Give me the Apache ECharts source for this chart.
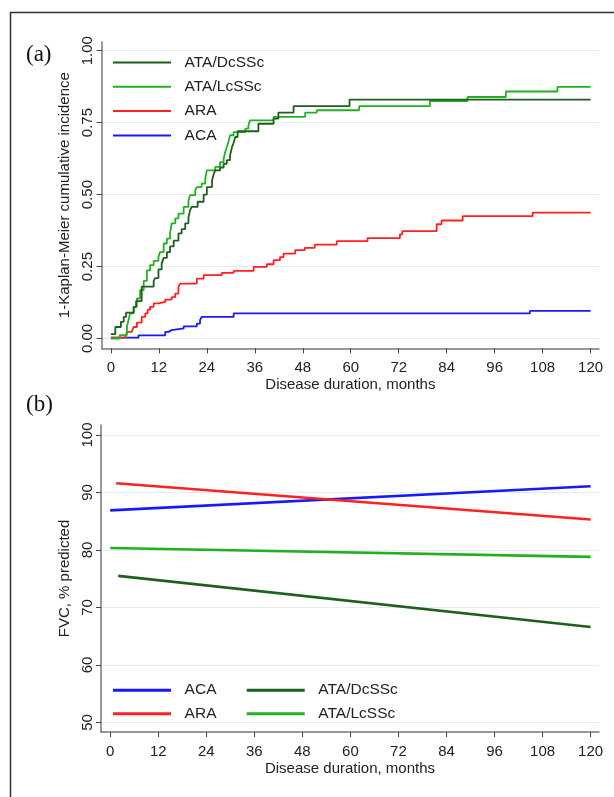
<!DOCTYPE html>
<html><head><meta charset="utf-8">
<script src="https://cdn.jsdelivr.net/npm/echarts@6/dist/echarts.min.js"></script>
<style>html,body{margin:0;padding:0;background:#fff}#c{width:614px;height:797px}</style>
</head><body><div id="c"></div>
<script>
// ---------- data ----------
const monthTicks = [0, 12, 24, 36, 48, 60, 72, 84, 96, 108, 120];
const kmTicks = [0, 0.25, 0.5, 0.75, 1];
const fvcTicks = [50, 60, 70, 80, 90, 100];
const groupNames = ['ATA/DcSSc', 'ATA/LcSSc', 'ARA', 'ACA'];

// (a) 1-Kaplan-Meier cumulative incidence: [month, value] at each step
const kmDcSSc = [[0,0.015],[1.1,0.04],[2.5,0.058],[3.2,0.075],[3.8,0.09],[5.7,0.11],[6.3,0.13],[7.7,0.18],[10.7,0.20],[11.1,0.21],[11.9,0.24],[12.7,0.26],[13.2,0.28],[14.0,0.30],[14.8,0.32],[15.7,0.34],[16.9,0.365],[17.7,0.38],[18.6,0.40],[19.4,0.42],[19.8,0.445],[20.2,0.457],[21.7,0.475],[23.2,0.50],[24.0,0.526],[25.3,0.55],[25.7,0.57],[26.1,0.584],[27.3,0.594],[28.2,0.607],[29.0,0.62],[29.8,0.636],[30.3,0.665],[30.7,0.68],[31.1,0.70],[31.7,0.72],[36.9,0.746],[40.7,0.764],[41.9,0.785],[45.7,0.807],[59.7,0.83],[120,0.83]];
const kmLcSSc = [[0,0],[2.2,0.012],[4.0,0.04],[4.4,0.064],[4.8,0.087],[5.7,0.11],[6.5,0.139],[7.3,0.168],[8.2,0.20],[9.0,0.237],[9.8,0.255],[10.7,0.27],[11.9,0.283],[12.3,0.30],[13.2,0.33],[14.0,0.347],[14.8,0.365],[15.2,0.40],[16.1,0.417],[16.9,0.434],[18.2,0.457],[19.4,0.48],[19.8,0.498],[21.1,0.515],[21.5,0.526],[22.7,0.538],[23.6,0.556],[24.0,0.584],[26.1,0.596],[27.3,0.613],[28.2,0.625],[28.6,0.648],[29.0,0.665],[29.4,0.683],[29.8,0.706],[30.7,0.717],[33.6,0.729],[34.4,0.74],[34.8,0.758],[40.7,0.77],[48.6,0.785],[51.5,0.793],[62.1,0.807],[79.8,0.825],[89.2,0.839],[98.8,0.858],[111.7,0.874],[120,0.874]];
const kmARA = [[0,0.003],[3.6,0.008],[4.0,0.023],[5.2,0.029],[5.7,0.04],[6.5,0.055],[7.7,0.075],[8.6,0.087],[9.2,0.10],[9.8,0.11],[10.7,0.122],[11.9,0.127],[13.6,0.135],[15.2,0.144],[16.1,0.156],[16.9,0.179],[17.3,0.191],[21.5,0.208],[23.2,0.22],[27.7,0.228],[30.7,0.235],[35.7,0.249],[39.0,0.258],[40.7,0.272],[42.3,0.283],[43.2,0.295],[46.1,0.307],[48.5,0.315],[51.0,0.326],[56.5,0.338],[64.2,0.349],[72.3,0.362],[72.9,0.373],[81.5,0.397],[82.7,0.41],[88.0,0.425],[105.5,0.4375],[120,0.4375]];
const kmACA = [[0,0.003],[6.9,0.011],[13.6,0.023],[14.4,0.029],[15.2,0.035],[18.2,0.042],[21.5,0.052],[22.3,0.064],[22.7,0.075],[30.7,0.087],[104.8,0.096],[120,0.096]];

// (b) FVC, % predicted: fitted lines [month, value]
const fvcACA = [[0,86.9],[120,91.1]];
const fvcARA = [[1.5,91.6],[120,85.3]];
const fvcDcSSc = [[2,75.5],[120,66.6]];
const fvcLcSSc = [[0,80.35],[120,78.8]];

// ---------- style ----------
const colors = {'ATA/DcSSc':'#1d5f1d','ATA/LcSSc':'#22b022','ARA':'#ff2020','ACA':'#1818ff'};
const FONT = '"Liberation Sans", Arial, sans-serif';
const txt = {fontFamily: FONT, fontSize: 15, color: '#222'};

function xAxisCfg(gi) {
  return {
    type: 'value', gridIndex: gi, min: -2.3, max: 122.1,
    axisLine: {show: true, onZero: false, lineStyle: {color: '#777', width: 1.5}},
    axisTick: {show: true, customValues: monthTicks, length: 5, lineStyle: {color: '#444', width: 1}},
    axisLabel: Object.assign({customValues: monthTicks, margin: 12}, txt),
    splitLine: {show: false},
    name: 'Disease duration, months', nameLocation: 'middle', nameGap: 29,
    nameTextStyle: txt
  };
}
function yAxisCfg(gi, min, max, ticks, fmt, name) {
  return {
    type: 'value', gridIndex: gi, min: min, max: max,
    axisLine: {show: true, onZero: false, lineStyle: {color: '#777', width: 1.5}},
    axisTick: {show: true, customValues: ticks, length: 5, lineStyle: {color: '#444', width: 1}},
    axisLabel: Object.assign({customValues: ticks, margin: 6, rotate: 90, formatter: fmt}, txt),
    splitLine: {show: true, lineStyle: {color: '#e4ecef', width: 1}},
    name: name, nameLocation: 'middle', nameGap: 22, nameTextStyle: txt
  };
}

const kmData = {'ATA/DcSSc': kmDcSSc, 'ATA/LcSSc': kmLcSSc, 'ARA': kmARA, 'ACA': kmACA};
const fvcData = {'ATA/DcSSc': fvcDcSSc, 'ATA/LcSSc': fvcLcSSc, 'ARA': fvcARA, 'ACA': fvcACA};
const drawOrder = ['ACA', 'ARA', 'ATA/LcSSc', 'ATA/DcSSc'];

const series = [];
drawOrder.forEach(n => series.push({
  name: n, type: 'line', step: 'end', xAxisIndex: 0, yAxisIndex: 0, data: kmData[n],
  symbol: 'none', color: colors[n], lineStyle: {width: 1.8, color: colors[n]}, silent: true
}));
drawOrder.forEach(n => series.push({
  name: n, type: 'line', xAxisIndex: 1, yAxisIndex: 1, data: fvcData[n],
  symbol: 'none', color: colors[n], lineStyle: {width: 2.6, color: colors[n]}, silent: true
}));

function legendCfg(names, left, top, h, gap) {
  return {
    show: true, orient: 'vertical', left: left, top: top, itemWidth: 58, itemHeight: h, itemGap: gap,
    icon: 'rect', data: names,
    formatter: n => '\u00a0\u00a0' + n,
    textStyle: Object.assign({}, txt, {fontSize: 15.5, lineHeight: 18}),
    selectedMode: false
  };
}

const option = {
  animation: false,
  backgroundColor: '#fff',
  title: [
    {text: '(a)', left: 21, top: 38, textStyle: {fontFamily: '"Liberation Serif", "Times New Roman", serif', fontSize: 23, fontWeight: 'normal', color: '#111'}},
    {text: '(b)', left: 21, top: 388, textStyle: {fontFamily: '"Liberation Serif", "Times New Roman", serif', fontSize: 23, fontWeight: 'normal', color: '#111'}}
  ],
  grid: [
    {left: 101.7, right: 15, top: 42, height: 306.3},
    {left: 101, right: 15, top: 425, height: 307}
  ],
  xAxis: [xAxisCfg(0), xAxisCfg(1)],
  yAxis: [
    yAxisCfg(0, -0.034, 1.030, kmTicks, v => v.toFixed(2), '1-Kaplan-Meier cumulative incidence'),
    yAxisCfg(1, 48.35, 101.74, fvcTicks, v => String(v), 'FVC, % predicted')
  ],
  legend: [
    legendCfg(groupNames, 108, 48.5, 2, 6.3),
    legendCfg(['ACA', 'ARA'], 108, 676.2, 3, 5.6),
    legendCfg(['ATA/DcSSc', 'ATA/LcSSc'], 241.7, 676.2, 3, 5.6)
  ],
  graphic: [{
    type: 'rect', left: 8, top: 10, silent: true, z: -1,
    shape: {x: 0, y: 0, width: 700, height: 900},
    style: {fill: 'none', stroke: '#333', lineWidth: 1.5}
  }],
  series: series
};
const chart = echarts.init(document.getElementById('c'), null, {renderer: 'canvas'});
chart.setOption(option);
</script>
</body></html>
